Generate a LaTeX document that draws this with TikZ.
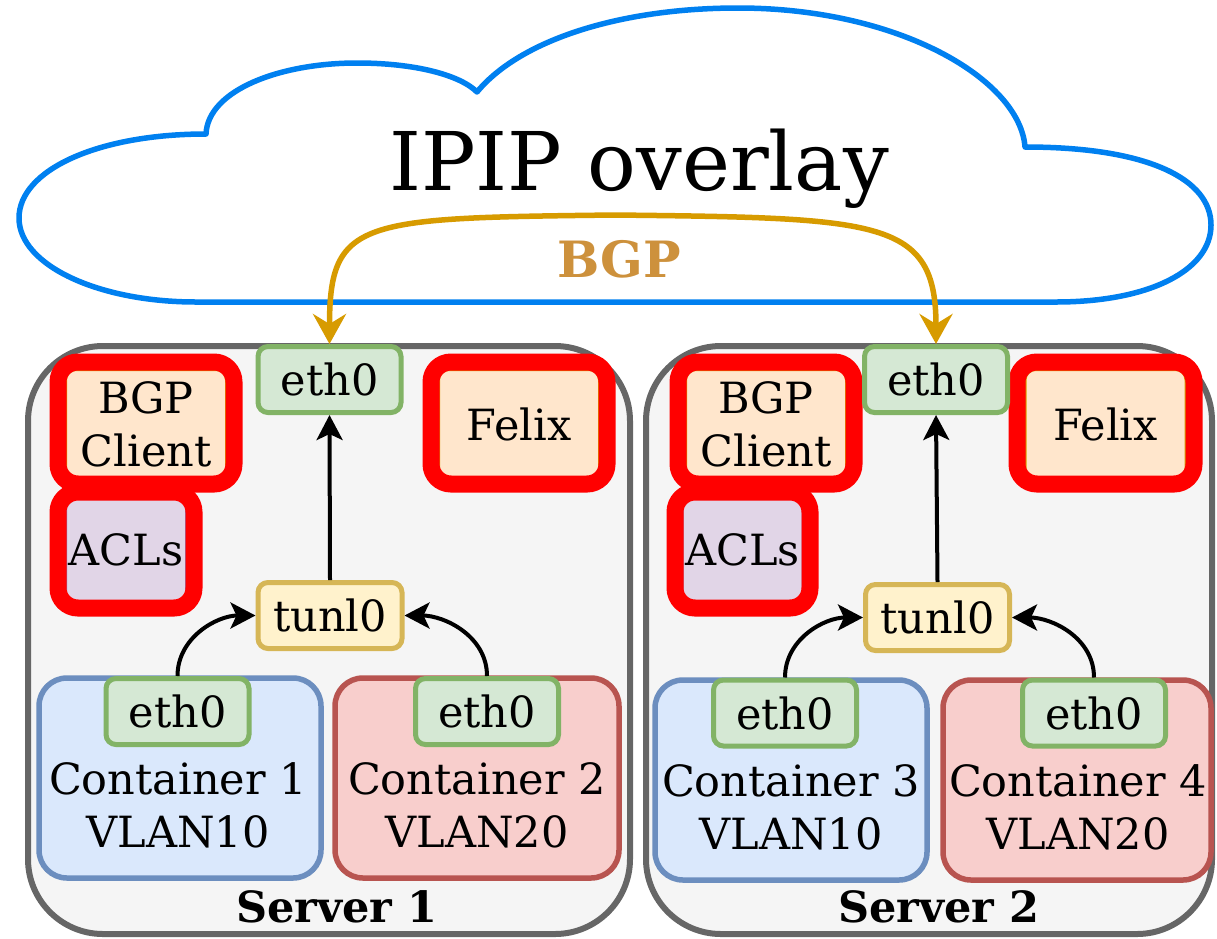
\documentclass[tikz,border=0pt]{standalone}
\usepackage{fontspec}
\setmainfont{DejaVu Serif}
\usetikzlibrary{arrows.meta,calc}
\definecolor{cloudblue}{RGB}{0,128,240}
\definecolor{bgpline}{HTML}{D79B00}
\definecolor{bgptext}{RGB}{205,145,60}
\definecolor{srvstroke}{HTML}{666666}
\definecolor{srvfill}{HTML}{F5F5F5}
\definecolor{grfill}{HTML}{D5E8D4}
\definecolor{grstroke}{HTML}{82B366}
\definecolor{yefill}{HTML}{FFF2CC}
\definecolor{yestroke}{HTML}{D6B656}
\definecolor{blfill}{HTML}{DAE8FC}
\definecolor{blstroke}{HTML}{6C8EBF}
\definecolor{rdfill}{HTML}{F8CECC}
\definecolor{rdstroke}{HTML}{B85450}
\definecolor{orfill}{HTML}{FFE6CC}
\definecolor{orstroke}{HTML}{D79B00}
\definecolor{pufill}{HTML}{E1D5E7}
\definecolor{pustroke}{HTML}{9673A6}
\begin{document}
\begin{tikzpicture}[x=1pt,y=-1pt,
  txt/.style={font=\fontsize{43}{53}\selectfont, align=center},
  server/.style={draw=srvstroke, fill=srvfill, line width=6pt, rounded corners=75pt, inner sep=0pt},
  iface/.style={txt, draw=grstroke, fill=grfill, line width=5pt, rounded corners=10pt, inner sep=0pt, minimum width=143pt, minimum height=66pt},
  tunbox/.style={txt, draw=yestroke, fill=yefill, line width=5pt, rounded corners=10pt, inner sep=0pt, minimum width=144pt, minimum height=66pt},
  contblue/.style={draw=blstroke, fill=blfill, line width=5.5pt, rounded corners=28pt, inner sep=0pt, minimum height=200pt},
  contred/.style={draw=rdstroke, fill=rdfill, line width=5.5pt, rounded corners=28pt, inner sep=0pt, minimum height=200pt},
  orbox/.style={txt, draw=orstroke, fill=orfill, line width=2pt, rounded corners=10pt, inner sep=0pt, minimum width=160pt, minimum height=108pt},
  pubox/.style={txt, draw=pustroke, fill=pufill, line width=2pt, rounded corners=10pt, inner sep=0pt, minimum width=120pt, minimum height=104pt},
  redframe/.style={draw=red, line width=17pt, rounded corners=20pt, inner sep=0pt},
  arr/.style={draw=black, line width=4pt, -{Stealth[length=25pt, width=26pt, inset=6pt]}},
  bgparr/.style={draw=bgpline, line width=5.5pt, {Stealth[length=30pt, width=33pt, inset=10pt]}-{Stealth[length=30pt, width=33pt, inset=10pt]}},
  srvlabel/.style={font=\fontsize{43}{50}\selectfont\bfseries, anchor=base}
]
\useasboundingbox (0,0) rectangle (1217,938);

% cloud
\draw[cloudblue, line width=5.5pt, fill=white, line join=round]
  (196,302) .. controls (98,302) and (19,265) .. (19,218)
  .. controls (19,170) and (98,134) .. (206,134)
  .. controls (208,90) and (280,63) .. (357,63)
  .. controls (415,63) and (460,75) .. (477,92)
  .. controls (520,40) and (620,8) .. (738,8)
  .. controls (900,8) and (1020,80) .. (1025,147)
  .. controls (1150,147) and (1211,180) .. (1211,225)
  .. controls (1211,270) and (1150,302) .. (1056,302)
  -- cycle;
\node[font=\fontsize{81}{96}\selectfont, anchor=base] (ipip) at (639,190) {IPIP overlay};
\node[font=\fontsize{50}{60}\selectfont\bfseries, text=bgptext, anchor=base] (bgplbl) at (619,277) {BGP};

% servers
\node[server, minimum width=602pt, minimum height=588pt] (s1) at (329,640) {};
\node[server, minimum width=566pt, minimum height=588pt] (s2) at (929,640) {};
\node[srvlabel] (s1l) at (337,922) {Server 1};
\node[srvlabel] (s2l) at (939,922) {Server 2};

% server 1 components
\node[orbox] (bgp1) at (146,424) {BGP\\Client};
\node[redframe, minimum width=176pt, minimum height=122pt] (bgp1f) at (146,423) {};
\node[pubox] (acl1) at (126,550) {ACLs};
\node[redframe, minimum width=136pt, minimum height=116pt] (acl1f) at (126,550) {};
\node[orbox] (fel1) at (519,424) {Felix};
\node[redframe, minimum width=176pt, minimum height=122pt] (fel1f) at (519,423) {};
\node[iface] (e1) at (329.5,379.5) {eth0};
\node[tunbox] (t1) at (330,615.5) {tunl0};
\node[contblue, minimum width=282pt] (c1) at (180,778) {};
\node[contred, minimum width=284pt] (c2) at (477,778) {};
\node[iface] (c1e) at (177.5,711.5) {eth0};
\node[iface] (c2e) at (487,711.5) {eth0};
\node[txt] (c1t) at (178,805) {Container 1\\VLAN10};
\node[txt] (c2t) at (477,805) {Container 2\\VLAN20};

% server 2 components
\node[orbox] (bgp2) at (766,424) {BGP\\Client};
\node[redframe, minimum width=176pt, minimum height=122pt] (bgp2f) at (766,423) {};
\node[pubox] (acl2) at (742.5,550) {ACLs};
\node[redframe, minimum width=135pt, minimum height=116pt] (acl2f) at (742.5,550) {};
\node[orbox] (fel2) at (1105.5,424) {Felix};
\node[redframe, minimum width=177pt, minimum height=122pt] (fel2f) at (1105.5,423) {};
\node[iface] (e2) at (936,379.5) {eth0};
\node[tunbox] (t2) at (937.5,617.5) {tunl0};
\node[contblue, minimum width=272pt] (c3) at (791,780) {};
\node[contred, minimum width=268pt] (c4) at (1077,780) {};
\node[iface] (c3e) at (785,713) {eth0};
\node[iface] (c4e) at (1094,713) {eth0};
\node[txt] (c3t) at (791,807) {Container 3\\VLAN10};
\node[txt] (c4t) at (1078,807) {Container 4\\VLAN20};

% arrows
\draw[arr] (t1.north) -- (e1.south);
\draw[arr] (c1e.north) to[out=90,in=180] (t1.west);
\draw[arr] (c2e.north) to[out=90,in=0] (t1.east);
\draw[arr] (t2.north) -- (e2.south);
\draw[arr] (c3e.north) to[out=90,in=180] (t2.west);
\draw[arr] (c4e.north) to[out=90,in=0] (t2.east);

% BGP
\coordinate (bgptop) at (615,215);
\draw[bgparr] (e1.north) .. controls ($(e1.north)+(0,-125)$) and (360,218) .. (bgptop)
  .. controls (880,218) and ($(e2.north)+(0,-125)$) .. (e2.north);
\end{tikzpicture}
\end{document}
